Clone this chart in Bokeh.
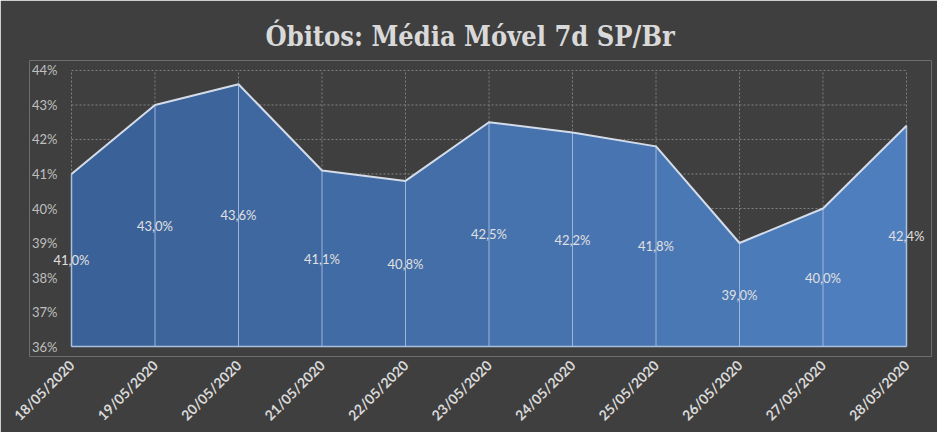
from bokeh.plotting import figure
from bokeh.models import Range1d, FixedTicker, ColumnDataSource
from bokeh.core.properties import value
from bokeh.embed import file_html
from bokeh.resources import INLINE

dates = ["18/05/2020", "19/05/2020", "20/05/2020", "21/05/2020", "22/05/2020",
         "23/05/2020", "24/05/2020", "25/05/2020", "26/05/2020", "27/05/2020", "28/05/2020"]
values = [41.0, 43.0, 43.6, 41.1, 40.8, 42.5, 42.2, 41.8, 39.0, 40.0, 42.4]
y_ticks = [36, 37, 38, 39, 40, 41, 42, 43, 44]
title_text = "Óbitos: Média Móvel 7d SP/Br"

BG = "#3f3f3f"
BASE = 36
n = len(dates)
xs = list(range(n))

# layout: category span 835 px wide, percent span 277 px high, with margins for labels
PX_X = 835 / (n - 1)
PX_Y = 277 / (y_ticks[-1] - y_ticks[0])
X_LO, X_HI = -42 / PX_X, (n - 1) + 25 / PX_X
Y_LO, Y_HI = y_ticks[0] - 10 / PX_Y, y_ticks[-1] + 10 / PX_Y

p = figure(width=937, height=432, output_backend="svg", toolbar_location=None,
           x_range=Range1d(X_LO, X_HI), y_range=Range1d(Y_LO, Y_HI),
           background_fill_color=BG, border_fill_color=BG,
           min_border_left=29, min_border_right=6, min_border_top=60, min_border_bottom=75)
p.outline_line_color = None

p.title.text = title_text
p.title.align = "left"
p.title.text_font = "DejaVu Serif Condensed"
p.title.text_font_size = "27px"
p.title.text_color = "#d9d9d9"
p.title.offset = 236
p.title.standoff = 18

# no automatic grids: draw them over the category span only
p.xgrid.visible = False
p.ygrid.visible = False
p.segment(x0=[xs[0]] * len(y_ticks), y0=y_ticks, x1=[xs[-1]] * len(y_ticks), y1=y_ticks,
          line_color="#808080", line_dash="2 2", line_width=1)
p.segment(x0=xs, y0=[y_ticks[0]] * n, x1=xs, y1=[y_ticks[-1]] * n,
          line_color="#808080", line_dash="2 2", line_width=1)

# gradient-like area: one segment per interval
def lerp(c1, c2, t):
    return "#%02x%02x%02x" % tuple(int(round(a + (b - a) * t)) for a, b in zip(c1, c2))

c_left = (0x3a, 0x60, 0x96)
c_right = (0x4f, 0x80, 0xbf)
for i in range(n - 1):
    col = lerp(c_left, c_right, (i + 0.5) / (n - 1))
    p.varea(x=[xs[i], xs[i + 1]], y1=[BASE, BASE], y2=[values[i], values[i + 1]],
            fill_color=col, fill_alpha=1.0)

# drop lines
p.segment(x0=xs[1:-1], y0=[BASE] * (n - 2), x1=xs[1:-1], y1=values[1:-1],
          line_color="#9cb6db", line_width=1)
# outline of area
p.segment(x0=[xs[0], xs[-1], xs[0]], y0=[BASE, BASE, BASE],
          x1=[xs[0], xs[-1], xs[-1]], y1=[values[0], values[-1], BASE],
          line_color="#a9c0de", line_width=1.5)
p.line(x=xs, y=values, line_color="#d4dcea", line_width=2)

# data labels centered in area
src = ColumnDataSource(dict(x=xs, y=[(v + BASE) / 2 for v in values],
                            t=[("%.1f%%" % v).replace(".", ",") for v in values]))
p.text(x="x", y="y", text="t", source=src, text_align="center", text_baseline="middle",
       text_color="#e0e0e0", text_font=value("Lato"), text_font_size="13px")

# y tick labels drawn as text left of the first category
ysrc = ColumnDataSource(dict(x=[-14 / PX_X] * len(y_ticks), y=y_ticks,
                             t=["%d%%" % t for t in y_ticks]))
p.text(x="x", y="y", text="t", source=ysrc, text_align="right", text_baseline="middle",
       text_color="#bfbfbf", text_font=value("Lato"), text_font_size="13px")
p.yaxis.visible = False

p.xaxis.ticker = FixedTicker(ticks=xs)
p.xaxis.major_label_overrides = {i: d for i, d in enumerate(dates)}
p.xaxis.major_label_orientation = 0.785398
p.xaxis.axis_line_color = None
p.xaxis.major_tick_line_color = None
p.xaxis.minor_tick_line_color = None
p.xaxis.major_label_text_color = "#d9d9d9"
p.xaxis.major_label_text_font = "Lato"
p.xaxis.major_label_text_font_style = "bold"
p.xaxis.major_label_text_font_size = "14px"
p.xaxis.major_label_standoff = 0

open("out.html", "w").write(file_html(p, INLINE))
